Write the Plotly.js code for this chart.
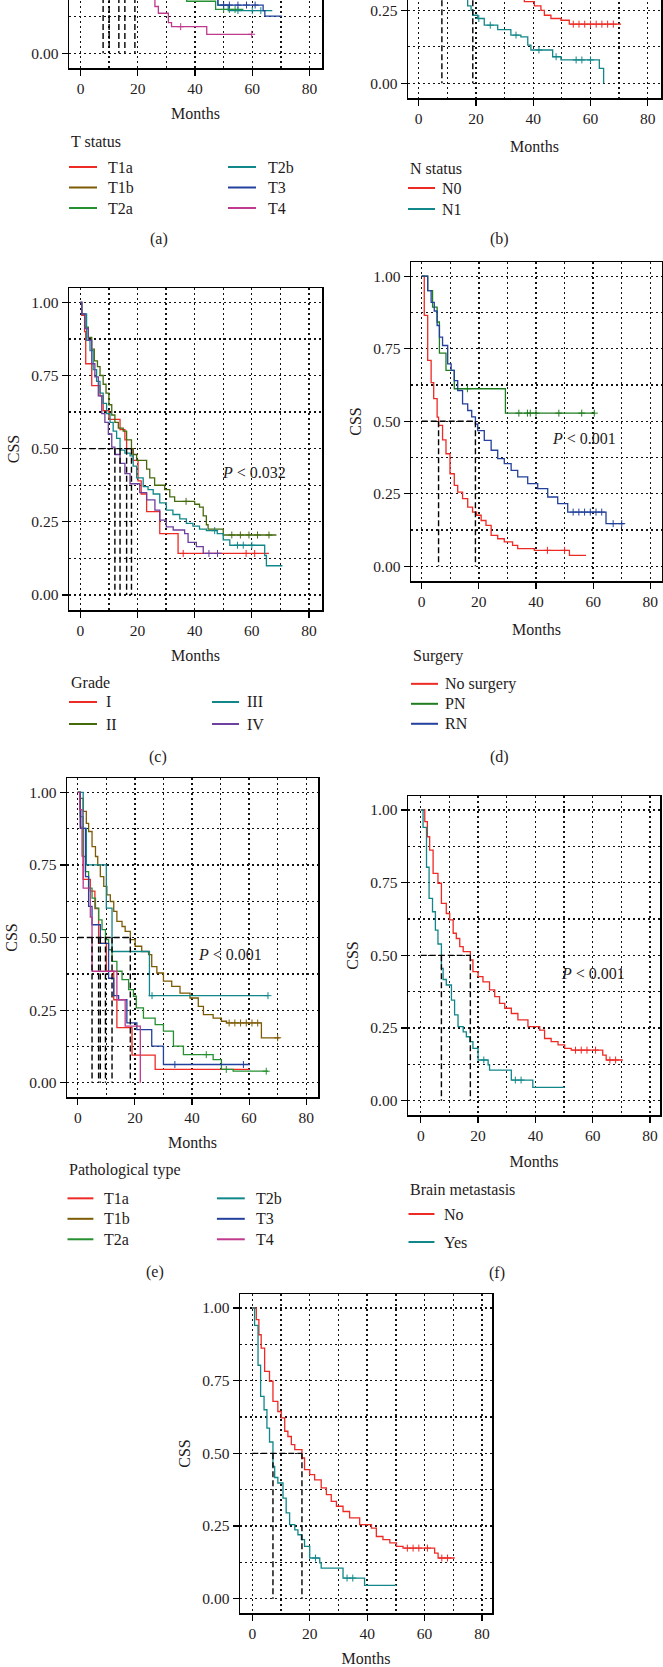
<!DOCTYPE html>
<html>
<head>
<meta charset="utf-8">
<script src="https://cdn.plot.ly/plotly-3.0.1.min.js"></script>
<style>
  html, body { margin: 0; padding: 0; background: #fff; }
  body { width: 663px; height: 1667px; position: relative; overflow: hidden; }
  .panel { position: absolute; }
</style>
</head>
<body>
<div id="pa" class="panel"></div>
<div id="pb" class="panel"></div>
<div id="pc" class="panel"></div>
<div id="pd" class="panel"></div>
<div id="pe" class="panel"></div>
<div id="pf" class="panel"></div>
<div id="pg" class="panel"></div>
<script>
// (a) T status
const tStatusGroups = ['T1a', 'T1b', 'T2a', 'T2b', 'T3', 'T4'];
const tStatusTimes = [
  [0, 1, 3, 6, 9, 14, 18, 22, 30, 40, 50, 62, 66],
  [0, 1, 3, 6, 9, 12, 15, 19, 25, 32, 40, 48, 56, 68],
  [0, 1, 3, 5, 7.5, 10.3, 14, 18, 23, 28, 33, 37.1, 47.2, 56.9],
  [0, 1, 3, 6, 10, 13, 15.9, 20, 26, 32, 38, 44, 48, 51.6, 67],
  [0, 1, 3, 6, 10.3, 14, 18, 24, 30, 38, 48, 63.8, 64.4, 70.3],
  [0, 1, 3, 5, 8.2, 11, 15, 19, 23, 26, 27.2, 30.7, 31.8, 44.1, 59.8]
];
const tStatusSurv = [
  [1, 0.92, 0.80, 0.65, 0.56, 0.49, 0.43, 0.38, 0.32, 0.28, 0.26, 0.25, 0.25],
  [1, 0.95, 0.88, 0.78, 0.70, 0.63, 0.57, 0.49, 0.42, 0.36, 0.31, 0.28, 0.25, 0.25],
  [1, 0.90, 0.77, 0.66, 0.57, 0.48, 0.40, 0.33, 0.27, 0.23, 0.20, 0.178, 0.15, 0.15],
  [1, 0.93, 0.83, 0.72, 0.61, 0.54, 0.48, 0.41, 0.33, 0.27, 0.22, 0.19, 0.165, 0.146, 0.146],
  [1, 0.90, 0.78, 0.62, 0.49, 0.41, 0.34, 0.27, 0.22, 0.19, 0.165, 0.146, 0.127, 0.127],
  [1, 0.85, 0.70, 0.60, 0.48, 0.40, 0.31, 0.24, 0.20, 0.16, 0.137, 0.105, 0.091, 0.065, 0.065]
];
const tStatusCensor = [[], [], [50, 52, 54], [55, 60, 63], [50, 52, 55, 58, 61], [35, 59.8]];
const tStatusMedians = [7.9, 10.0, 13.4, 15.5, 19.0];

// (b) N status
const nStatusGroups = ['N0', 'N1'];
const nStatusTimes = [
  [0, 1, 3, 5, 8, 11, 14, 18.9, 22, 26, 30, 34, 36.9, 40.4, 42.7, 43.9, 46.2, 49.7, 52.6, 70.7],
  [0, 1, 2.5, 4, 6, 8.1, 10, 13, 15.5, 17.1, 18.3, 18.9, 20.6, 22.9, 27.6, 32.2, 35.7, 38.1, 39.2, 46.8, 49.7, 63.1, 64.6]
];
const nStatusSurv = [
  [1, 0.95, 0.88, 0.80, 0.70, 0.62, 0.56, 0.49, 0.44, 0.39, 0.34, 0.30, 0.28, 0.265, 0.25, 0.233, 0.222, 0.216, 0.2025, 0.2025],
  [1, 0.93, 0.82, 0.70, 0.58, 0.49, 0.42, 0.35, 0.30, 0.265, 0.25, 0.233, 0.222, 0.199, 0.184, 0.165, 0.159, 0.131, 0.114, 0.091, 0.08, 0.051, 0]
];
const nStatusCensor = [[54, 56, 58, 60, 62, 64, 66, 68], [21, 25, 34, 42, 48, 55, 57, 60]];
const nStatusMedians = [8.1, 18.9];

// (c) Grade
const gradeGroups = ['I', 'II', 'III', 'IV'];
const gradeTimes = [
  [0, 0.5, 1.5, 1.9, 4.0, 6.9, 8.0, 10.0, 13.9, 15.6, 16.2, 18.5, 20.2, 21.3, 23.2, 27.8, 34.2, 66],
  [0, 0.5, 1.6, 2.8, 4.0, 4.9, 6.0, 6.9, 8.0, 9.0, 10.0, 11.0, 12.1, 13.3, 15.0, 16.2, 17.9, 18.5, 19.7, 23.2, 24.3, 26.0, 29.5, 31.3, 33.0, 40.0, 41.7, 43.0, 44.1, 44.7, 50.0, 68.6],
  [0, 0.5, 2.2, 3.4, 4.5, 5.7, 6.9, 8.0, 9.2, 10.4, 11.5, 12.7, 13.9, 15.6, 17.4, 18.5, 19.7, 22.0, 23.7, 25.5, 27.8, 30.1, 32.4, 34.8, 37.1, 39.4, 41.7, 44.1, 47.9, 50.0, 52.3, 64.5, 65.1, 70.7],
  [0, 0.5, 1.6, 2.8, 4.0, 5.1, 6.3, 7.5, 8.6, 9.8, 11.0, 12.1, 13.9, 15.6, 17.4, 20.8, 23.2, 26.1, 27.8, 30.1, 32.5, 36.5, 37.7, 40.6, 43.0, 49.4]
];
const gradeSurv = [
  [1, 0.955, 0.90, 0.79, 0.715, 0.68, 0.63, 0.60, 0.565, 0.53, 0.50, 0.46, 0.39, 0.345, 0.285, 0.21, 0.142, 0.142],
  [1, 0.96, 0.915, 0.88, 0.84, 0.80, 0.78, 0.75, 0.72, 0.69, 0.65, 0.615, 0.59, 0.57, 0.56, 0.53, 0.50, 0.48, 0.46, 0.43, 0.40, 0.375, 0.36, 0.335, 0.32, 0.31, 0.30, 0.27, 0.24, 0.225, 0.205, 0.205],
  [1, 0.96, 0.87, 0.835, 0.77, 0.73, 0.69, 0.655, 0.62, 0.59, 0.56, 0.535, 0.495, 0.485, 0.475, 0.44, 0.40, 0.37, 0.36, 0.345, 0.315, 0.29, 0.275, 0.26, 0.245, 0.235, 0.225, 0.22, 0.21, 0.188, 0.17, 0.135, 0.10, 0.10],
  [1, 0.96, 0.91, 0.87, 0.79, 0.745, 0.68, 0.62, 0.59, 0.55, 0.505, 0.48, 0.45, 0.415, 0.38, 0.35, 0.325, 0.29, 0.256, 0.233, 0.222, 0.21, 0.18, 0.165, 0.142, 0.142]
];
const gradeCensor = [[36, 58, 61], [37, 53, 56, 59, 62, 66], [47, 55, 57, 60], [45, 48]];
const gradeMedians = [12.1, 13.9, 16.2, 17.9];

// (d) Surgery
const surgeryGroups = ['No surgery', 'PN', 'RN'];
const surgeryTimes = [
  [0, 0.9, 2.1, 3.3, 4.2, 5.4, 5.9, 7.3, 8.5, 9.9, 11.4, 12.6, 14.3, 16.1, 17.8, 19.2, 20.8, 22.5, 24.3, 26.6, 28.9, 31.8, 33.6, 39.4, 51.7, 57.5],
  [0, 2.1, 3.8, 5.4, 6.2, 8.5, 11.4, 29.3, 60.4],
  [0, 2.1, 3.3, 4.4, 5.4, 6.2, 7.3, 9.1, 10.3, 11.4, 12.6, 14.3, 16.1, 17.5, 18.8, 19.6, 21.9, 24.3, 26.6, 28.9, 31.3, 33.6, 37.1, 40.6, 44.1, 47.6, 51.1, 64.5, 70.9]
];
const surgerySurv = [
  [1, 0.865, 0.71, 0.633, 0.578, 0.514, 0.486, 0.436, 0.388, 0.319, 0.279, 0.256, 0.233, 0.204, 0.187, 0.176, 0.158, 0.141, 0.107, 0.095, 0.084, 0.072, 0.061, 0.055, 0.038, 0.038],
  [1, 0.95, 0.893, 0.842, 0.735, 0.675, 0.612, 0.528, 0.528],
  [1, 0.95, 0.91, 0.88, 0.83, 0.79, 0.761, 0.698, 0.675, 0.64, 0.606, 0.56, 0.537, 0.515, 0.49, 0.468, 0.434, 0.40, 0.371, 0.354, 0.331, 0.308, 0.285, 0.268, 0.239, 0.216, 0.187, 0.147, 0.147]
];
const surgeryCensor = [[44, 50], [16, 34, 37, 38, 40, 48, 56, 60.4], [53, 55, 57, 59, 61, 63, 67, 70]];
const surgeryMedians = [5.9, 18.8];

// (e) Pathological type
const pathGroups = ['T1a', 'T1b', 'T2a', 'T2b', 'T3', 'T4'];
const pathTimes = [
  [0, 0.9, 1.9, 4.4, 6.0, 7.3, 10.0, 12.6, 13.7, 19.0, 27.1, 60.2],
  [0, 0.9, 1.9, 3.0, 3.8, 5.0, 6.2, 7.0, 7.9, 9.1, 10.2, 11.4, 12.6, 13.7, 15.5, 16.6, 18.4, 20.1, 22.4, 24.8, 25.9, 27.7, 30.0, 32.9, 35.8, 39.3, 42.2, 44.0, 47.4, 50.3, 52.1, 64.3, 70.7],
  [0, 0.9, 1.9, 2.7, 3.8, 5.0, 6.2, 7.3, 8.5, 9.7, 10.8, 12.0, 13.7, 15.5, 17.8, 19.5, 20.5, 23.0, 27.1, 30.0, 33.5, 37.0, 47.4, 50.3, 54.4, 66.6],
  [0, 1.9, 3.0, 10.0, 12.0, 25.1, 66.6],
  [0, 0.9, 2.7, 3.8, 5.0, 7.9, 10.8, 12.6, 14.3, 17.2, 20.7, 25.9, 30.0, 60.2],
  [0, 0.7, 1.5, 1.9, 4.4, 5.0, 13.7, 16.6, 21.9]
];
const pathSurv = [
  [1, 0.88, 0.70, 0.66, 0.60, 0.48, 0.384, 0.286, 0.19, 0.095, 0.046, 0.046],
  [1, 0.979, 0.934, 0.893, 0.865, 0.813, 0.779, 0.75, 0.71, 0.676, 0.647, 0.624, 0.59, 0.556, 0.538, 0.521, 0.493, 0.47, 0.452, 0.441, 0.40, 0.378, 0.35, 0.332, 0.309, 0.292, 0.263, 0.235, 0.223, 0.212, 0.206, 0.155, 0.155],
  [1, 0.916, 0.779, 0.727, 0.67, 0.636, 0.601, 0.561, 0.527, 0.493, 0.458, 0.418, 0.384, 0.355, 0.321, 0.298, 0.258, 0.223, 0.20, 0.178, 0.126, 0.097, 0.08, 0.046, 0.04, 0.04],
  [1, 0.876, 0.75, 0.601, 0.452, 0.30, 0.30],
  [1, 0.876, 0.71, 0.607, 0.544, 0.48, 0.36, 0.30, 0.286, 0.206, 0.183, 0.126, 0.063, 0.063],
  [1, 0.94, 0.78, 0.67, 0.57, 0.384, 0.286, 0.195, 0]
];
const pathCensor = [[], [53, 55, 57, 59, 61, 63, 70], [45, 52, 66], [26, 66.6], [34, 58], []];
const pathMedians = [5.0, 7.3, 7.9, 9.7, 12.0, 18.4];

// (f) and (g) Brain metastasis
const brainGroups = ['No', 'Yes'];
const brainTimes = [
  [0, 1.4, 2.3, 3.1, 4.3, 6.0, 7.2, 8.9, 10.1, 11.3, 12.4, 13.6, 14.8, 17.3, 18.2, 20.0, 21.7, 24.0, 25.8, 27.5, 29.3, 31.6, 33.9, 37.4, 41.5, 43.2, 45.5, 47.9, 50.2, 52.5, 63.5, 64.7, 70.5],
  [0, 0.8, 2.0, 2.9, 4.1, 5.1, 6.0, 7.2, 7.8, 8.9, 10.7, 11.8, 13.0, 14.8, 15.9, 17.1, 18.2, 20.0, 23.5, 24.0, 31.6, 39.1, 50.2]
];
const brainSurv = [
  [1, 0.96, 0.908, 0.862, 0.782, 0.748, 0.679, 0.644, 0.622, 0.576, 0.558, 0.53, 0.513, 0.484, 0.444, 0.427, 0.409, 0.381, 0.358, 0.335, 0.318, 0.30, 0.278, 0.255, 0.243, 0.214, 0.203, 0.192, 0.18, 0.174, 0.157, 0.14, 0.14],
  [1, 0.94, 0.803, 0.696, 0.65, 0.587, 0.539, 0.455, 0.417, 0.398, 0.346, 0.295, 0.255, 0.237, 0.22, 0.203, 0.18, 0.14, 0.123, 0.105, 0.071, 0.046, 0.046]
];
const brainCensor = [[54, 56, 58, 61, 66, 68], [22, 33, 35]];
const brainMedians = [7.2, 17.3];

const pValues = { c: 'P < 0.032', d: 'P < 0.001', e: 'P < 0.001', f: 'P < 0.001' };

// colours
const RED = '#ee2a24', BROWN = '#7d5b05', OLIVE = '#456a0c', GREEN = '#259030',
  DKGREEN = '#1e7d1e', TEAL = '#12878a', BLUE = '#22409c', MAGENTA = '#bf3a8c', PURPLE = '#6d3f9e';
const FONT = '"Liberation Serif", "Times New Roman", serif';
const TXT = '#1f1b1c';

// survival value of a step curve at time t
function stepAt(times, surv, t) {
  let v = surv[0];
  for (let i = 0; i < times.length; i++) { if (times[i] <= t) v = surv[i]; }
  return v;
}

function drawPanel(id, cfg) {
  const el = document.getElementById(id);
  const [bl, bt, bw, bh] = cfg.box;
  el.style.left = bl + 'px';
  el.style.top = bt + 'px';
  el.style.width = bw + 'px';
  el.style.height = bh + 'px';

  const f = cfg.frame;
  const sx = (cfg.xTicks[1] - cfg.xTicks[0]) / 80;
  const sy = cfg.yTicks[0] - cfg.yTicks[1];
  const xr = [(f.l - cfg.xTicks[0]) / sx, (f.r - cfg.xTicks[0]) / sx];
  const yr = [(cfg.yTicks[0] - f.b) / sy, (cfg.yTicks[0] - f.t) / sy];
  // page pixels -> paper coords of this panel
  const px = x => (x - f.l) / (f.r - f.l);
  const py = y => (f.b - y) / (f.b - f.t);

  const traces = [];
  cfg.groups.forEach((g, i) => {
    traces.push({
      x: cfg.times[i], y: cfg.surv[i], name: g,
      type: 'scatter', mode: 'lines',
      line: { shape: 'hv', color: cfg.colors[i], width: 1.3 },
      showlegend: false, hoverinfo: 'skip'
    });
    const ct = cfg.censor[i];
    if (ct.length) {
      traces.push({
        x: ct, y: ct.map(t => stepAt(cfg.times[i], cfg.surv[i], t)),
        type: 'scatter', mode: 'markers',
        marker: { symbol: 'cross-thin', size: 5, line: { color: cfg.colors[i], width: 1 } },
        showlegend: false, hoverinfo: 'skip'
      });
    }
  });

  // median survival lines
  const mx = [0, Math.max(...cfg.medians), null], my = [0.5, 0.5, null];
  cfg.medians.forEach(m => { mx.push(m, m, null); my.push(0.5, 0, null); });
  traces.push({
    x: mx, y: my, type: 'scatter', mode: 'lines',
    line: { color: '#000', width: 1.4, dash: '6px,3px' },
    showlegend: false, hoverinfo: 'skip'
  });

  const shapes = [], annotations = [];
  const txtFont = { family: FONT, size: 16, color: TXT };
  if (cfg.legend) {
    const L = cfg.legend;
    annotations.push({
      xref: 'paper', yref: 'paper', x: px(L.x), y: py(L.titleY),
      xanchor: 'left', yanchor: 'middle', showarrow: false,
      text: cfg.legendTitle, font: txtFont
    });
    cfg.groups.forEach((g, i) => {
      const col = L.cols[Math.floor(i / L.rows.length)];
      const yy = py(L.rows[i % L.rows.length]);
      shapes.push({
        type: 'line', xref: 'paper', yref: 'paper',
        x0: px(col[0]), x1: px(col[1]), y0: yy, y1: yy,
        line: { color: cfg.colors[i], width: 2 }
      });
      annotations.push({
        xref: 'paper', yref: 'paper', x: px(col[2]), y: yy,
        xanchor: 'left', yanchor: 'middle', showarrow: false,
        text: g, font: txtFont
      });
    });
  }
  if (cfg.caption) {
    annotations.push({
      xref: 'paper', yref: 'paper', x: px(cfg.caption[1]), y: py(cfg.caption[2]),
      xanchor: 'center', yanchor: 'middle', showarrow: false,
      text: cfg.caption[0], font: txtFont
    });
  }
  if (cfg.p) {
    annotations.push({
      x: cfg.pXY[0], y: cfg.pXY[1], xanchor: 'center', yanchor: 'middle', showarrow: false,
      text: '<i>P</i> &lt; ' + cfg.p.split('< ')[1],
      font: { family: FONT, size: 16, color: TXT }
    });
  }

  // tick labels that fall above the page top (panels a, b) are left blank
  const alias = {};
  (cfg.hiddenTicks || []).forEach(t => { alias[t] = ''; });

  const axisCommon = {
    ticks: 'outside', ticklen: 6, tickwidth: 1.2, tickcolor: '#000',
    showline: true, mirror: true, linecolor: '#000', linewidth: 1.5,
    showgrid: true, griddash: '2px,3px', gridcolor: '#111', gridwidth: 1.3,
    zeroline: false, fixedrange: true,
    tickfont: { family: FONT, size: 15.5, color: TXT }
  };

  const layout = {
    width: bw, height: bh,
    margin: { l: f.l - bl, r: bl + bw - f.r, t: f.t - bt, b: bt + bh - f.b, autoexpand: false },
    paper_bgcolor: 'rgba(0,0,0,0)', plot_bgcolor: 'rgba(0,0,0,0)',
    showlegend: false,
    xaxis: Object.assign({}, axisCommon, {
      range: xr, tick0: 0, dtick: 20,
      minor: { tick0: 0, dtick: 10, showgrid: true, griddash: '2px,3px', gridcolor: '#111', gridwidth: 1.3, ticks: '' },
      title: { text: 'Months', font: txtFont, standoff: cfg.xStandoff }
    }),
    yaxis: Object.assign({}, axisCommon, {
      range: yr, tick0: 0, dtick: 0.25, tickformat: '.2f', labelalias: alias,
      minor: { tick0: 0, dtick: 0.125, showgrid: true, griddash: '2px,3px', gridcolor: '#111', gridwidth: 1.3, ticks: '' },
      title: { text: cfg.hiddenTicks ? '' : 'CSS', font: txtFont, standoff: 7 }
    }),
    shapes: shapes,
    annotations: annotations
  };

  Plotly.newPlot(el, traces, layout, { staticPlot: true, displayModeBar: false });
}

drawPanel('pa', {
  groups: tStatusGroups, times: tStatusTimes, surv: tStatusSurv, censor: tStatusCensor, medians: tStatusMedians,
  colors: [RED, BROWN, GREEN, TEAL, BLUE, MAGENTA], legendTitle: 'T status', caption: ['(a)', 159, 239],
  box: [0, -270, 331, 530], frame: { l: 69, r: 322, t: -254, b: 68 }, xStandoff: 11,
  xTicks: [80.5, 309.5], yTicks: [53.3, -239.2], hiddenTicks: ['0.25', '0.50', '0.75', '1.00'],
  legend: { x: 69, titleY: 141, rows: [167, 187.5, 208], cols: [[69, 97, 106], [228, 256, 266]] }
});
drawPanel('pb', {
  groups: nStatusGroups, times: nStatusTimes, surv: nStatusSurv, censor: nStatusCensor, medians: nStatusMedians,
  colors: [RED, TEAL], legendTitle: 'N status', caption: ['(b)', 499, 239],
  box: [331, -240, 332, 500], frame: { l: 408, r: 661, t: -223, b: 98 }, xStandoff: 14,
  xTicks: [418.7, 647.7], yTicks: [83.3, -208.7], hiddenTicks: ['0.50', '0.75', '1.00'],
  legend: { x: 408, titleY: 168, rows: [188, 209], cols: [[408, 435, 440]] }
});
drawPanel('pc', {
  groups: gradeGroups, times: gradeTimes, surv: gradeSurv, censor: gradeCensor, medians: gradeMedians,
  colors: [RED, OLIVE, TEAL, PURPLE], legendTitle: 'Grade', caption: ['(c)', 158, 757],
  p: pValues.c, pXY: [60.7, 0.42],
  box: [0, 270, 331, 505], frame: { l: 69, r: 322, t: 288, b: 610 }, xStandoff: 11,
  xTicks: [80.3, 309], yTicks: [595, 302.3],
  legend: { x: 69, titleY: 682, rows: [702, 724], cols: [[69, 97, 104], [212, 239, 245]] }
});
drawPanel('pd', {
  groups: surgeryGroups, times: surgeryTimes, surv: surgerySurv, censor: surgeryCensor, medians: surgeryMedians,
  colors: [RED, DKGREEN, BLUE], legendTitle: 'Surgery', caption: ['(d)', 499, 757],
  p: pValues.d, pXY: [56.9, 0.44],
  box: [331, 245, 332, 530], frame: { l: 411, r: 662, t: 261.5, b: 581 }, xStandoff: 14,
  xTicks: [421.7, 650.3], yTicks: [566.3, 275.7],
  legend: { x: 411, titleY: 656, rows: [684, 704, 724], cols: [[411, 438, 443]] }
});
drawPanel('pe', {
  groups: pathGroups, times: pathTimes, surv: pathSurv, censor: pathCensor, medians: pathMedians,
  colors: [RED, BROWN, GREEN, TEAL, BLUE, MAGENTA], legendTitle: 'Pathological type', caption: ['(e)', 155, 1273],
  p: pValues.e, pXY: [53.3, 0.443],
  box: [0, 760, 331, 530], frame: { l: 66.5, r: 318.5, t: 778, b: 1097.5 }, xStandoff: 11,
  xTicks: [77.3, 306.7], yTicks: [1083.3, 792.3],
  legend: { x: 67, titleY: 1171, rows: [1199, 1219.5, 1240], cols: [[67, 93, 102], [217, 245, 254]] }
});
drawPanel('pf', {
  groups: brainGroups, times: brainTimes, surv: brainSurv, censor: brainCensor, medians: brainMedians,
  colors: [RED, TEAL], legendTitle: 'Brain metastasis', caption: ['(f)', 497, 1273],
  p: pValues.f, pXY: [60, 0.438],
  box: [331, 780, 332, 510], frame: { l: 407.5, r: 660, t: 796, b: 1115 }, xStandoff: 12,
  xTicks: [420.3, 650], yTicks: [1100.7, 810],
  legend: { x: 408, titleY: 1189, rows: [1214, 1242], cols: [[408, 434, 442]] }
});
drawPanel('pg', {
  groups: brainGroups, times: brainTimes, surv: brainSurv, censor: brainCensor, medians: brainMedians,
  colors: [RED, TEAL], xStandoff: 12,
  box: [160, 1280, 340, 387], frame: { l: 240, r: 492.3, t: 1294.3, b: 1613.3 },
  xTicks: [252.3, 482.3], yTicks: [1599, 1308.3]
});
</script>
</body>
</html>
